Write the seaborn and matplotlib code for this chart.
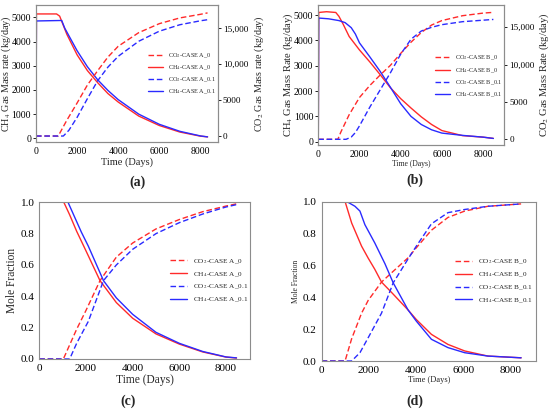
import matplotlib
matplotlib.use('Agg')
import matplotlib.pyplot as plt
import seaborn as sns
from matplotlib.ticker import FuncFormatter

sns.set_style('white')
plt.rcParams['font.family'] = ['Liberation Serif', 'DejaVu Serif']
plt.rcParams['mathtext.fontset'] = 'stix'

RED = '#ff2a2a'
BLUE = '#2a2aff'

# ---- (a) mass rates, CASE A ----
a_ch4_0_t = [0, 20, 1000, 1150, 1500, 2000, 2500, 3000, 3500, 4000, 5000, 6000, 7000, 8000, 8350]
a_ch4_0_v = [0, 5140, 5140, 5050, 4300, 3450, 2800, 2300, 1850, 1500, 920, 530, 260, 90, 60]
a_ch4_01_t = [0, 20, 1250, 1400, 2000, 2500, 3000, 3500, 4000, 5000, 6000, 7000, 8000, 8350]
a_ch4_01_v = [0, 4850, 4870, 4550, 3620, 2960, 2420, 1980, 1600, 1000, 580, 290, 100, 60]
a_co2_0_t = [0, 1080, 1500, 2000, 2500, 3000, 3500, 4000, 5000, 6000, 7000, 8000, 8350]
a_co2_0_v = [0, 0, 2200, 4600, 7100, 9100, 11000, 12500, 14400, 15650, 16450, 16950, 17150]
a_co2_01_t = [0, 1330, 1600, 2000, 2500, 3000, 3500, 4000, 5000, 6000, 7000, 8000, 8350]
a_co2_01_v = [0, 0, 800, 2600, 5200, 7700, 9600, 11100, 13200, 14600, 15500, 16050, 16200]

# ---- (b) mass rates, CASE B ----
b_ch4_0_t = [0, 20, 400, 850, 1000, 1200, 1500, 2000, 2500, 3000, 3500, 4000, 4500, 5000, 5500, 6000, 7000, 8000, 8500]
b_ch4_0_v = [0, 5100, 5130, 5100, 4950, 4650, 4150, 3620, 3150, 2650, 2130, 1700, 1330, 980, 680, 440, 240, 180, 130]
b_ch4_01_t = [0, 20, 500, 1000, 1300, 1600, 1800, 2000, 2500, 3000, 3500, 4000, 4500, 5000, 5500, 6000, 7000, 8000, 8500]
b_ch4_01_v = [0, 4880, 4850, 4780, 4700, 4500, 4250, 3900, 3350, 2780, 2150, 1500, 1000, 680, 470, 340, 250, 180, 130]
b_co2_0_t = [0, 950, 1100, 1500, 2000, 2500, 3000, 3500, 4000, 4500, 5000, 5500, 6000, 7000, 8000, 8500]
b_co2_0_v = [0, 0, 1000, 3300, 5600, 7200, 8600, 9900, 11500, 13000, 14300, 15300, 15900, 16550, 16900, 17000]
b_co2_01_t = [0, 1350, 1600, 1800, 2000, 2500, 3000, 3500, 4000, 4500, 5000, 5500, 6000, 7000, 8000, 8500]
b_co2_01_v = [0, 0, 300, 900, 1800, 4300, 6600, 8900, 11400, 13400, 14500, 15000, 15350, 15750, 15950, 16050]

# ---- (c) mole fraction, CASE A ----
c_ch4_0_t = [0, 1050, 1300, 1600, 2000, 2600, 3300, 4000, 5000, 6000, 7000, 8000, 8450]
c_ch4_0_v = [1, 1, 0.92, 0.815, 0.69, 0.5, 0.36, 0.26, 0.16, 0.095, 0.045, 0.012, 0.006]
c_ch4_01_t = [0, 1230, 1500, 1800, 2100, 2750, 3300, 4000, 5000, 6000, 7000, 8000, 8450]
c_ch4_01_v = [1, 1, 0.91, 0.81, 0.72, 0.5, 0.39, 0.285, 0.17, 0.1, 0.048, 0.013, 0.007]
c_co2_0_t = [0, 1030, 1300, 1600, 2000, 2600, 3300, 4000, 5000, 6000, 7000, 8000, 8450]
c_co2_0_v = [0, 0, 0.09, 0.19, 0.31, 0.5, 0.65, 0.74, 0.83, 0.89, 0.94, 0.976, 0.99]
c_co2_01_t = [0, 1300, 1600, 2100, 2750, 3300, 4000, 5000, 6000, 7000, 8000, 8450]
c_co2_01_v = [0, 0, 0.1, 0.24, 0.5, 0.6, 0.7, 0.8, 0.87, 0.925, 0.97, 0.985]

# ---- (d) mole fraction, CASE B ----
d_ch4_0_t = [0, 990, 1270, 1690, 1970, 2250, 2535, 2960, 3660, 4010, 4650, 5350, 6060, 7040, 8450]
d_ch4_0_v = [1, 1, 0.865, 0.72, 0.645, 0.575, 0.495, 0.43, 0.32, 0.26, 0.167, 0.104, 0.063, 0.031, 0.02]
d_ch4_01_t = [0, 1060, 1410, 1620, 1830, 2250, 2680, 3030, 3660, 4010, 4650, 5350, 6060, 7040, 8450]
d_ch4_01_v = [1, 1, 0.97, 0.94, 0.855, 0.74, 0.61, 0.49, 0.32, 0.25, 0.136, 0.084, 0.052, 0.031, 0.02]
d_co2_0_t = [0, 990, 1270, 1690, 1970, 2535, 2960, 3660, 4010, 4650, 5350, 6060, 7040, 8450]
d_co2_0_v = [0, 0, 0.14, 0.30, 0.38, 0.495, 0.553, 0.647, 0.71, 0.82, 0.9, 0.94, 0.97, 0.985]
d_co2_01_t = [0, 1270, 1620, 1970, 2535, 3030, 3660, 4010, 4650, 5350, 6060, 7040, 8450]
d_co2_01_v = [0, 0, 0.052, 0.146, 0.30, 0.49, 0.64, 0.72, 0.86, 0.93, 0.95, 0.97, 0.985]

x_ticks = [0, 2000, 4000, 6000, 8000]
dash = (4, 2)
lw = 1.0


def style_axes(ax, tick_size):
    for s in ax.spines.values():
        s.set_color('#8c8c8c')
        s.set_linewidth(0.8)
    ax.tick_params(labelsize=tick_size, length=2, width=0.6, pad=1.5, colors='black')


def line(ax, t, v, color, dashed, label):
    sns.lineplot(x=t, y=v, ax=ax, color=color, linewidth=lw, label=label, legend=False)
    ln = ax.get_lines()[-1]
    if dashed:
        ln.set_dashes(dash)
    return ln


def add_legend(ax, handles, x, y, fs):
    ax.legend(handles=handles, labels=[h.get_label() for h in handles], loc='center left',
              bbox_to_anchor=(x, y), frameon=False, fontsize=fs, borderpad=0, borderaxespad=0,
              handlelength=2.4, handletextpad=0.8, labelspacing=0.55)


fig = plt.figure(figsize=(5.5, 4.13), dpi=100)

fmt_comma = FuncFormatter(lambda v, p: f'{int(v):,}' if v >= 10000 else f'{int(v)}')

# (a)
ax = fig.add_axes([0.0655, 0.6554, 0.3309, 0.3324])
ax2 = ax.twinx()
h1 = line(ax2, a_co2_0_t, a_co2_0_v, RED, True, 'CO$_2$-CASE A_0')
h2 = line(ax, a_ch4_0_t, a_ch4_0_v, RED, False, 'CH$_4$-CASE A_0')
h3 = line(ax2, a_co2_01_t, a_co2_01_v, BLUE, True, 'CO$_2$-CASE A_0.1')
h4 = line(ax, a_ch4_01_t, a_ch4_01_v, BLUE, False, 'CH$_4$-CASE A_0.1')
ax.set_xlim(0, 8860)
ax.set_ylim(-165, 5508)
ax2.set_ylim(-877, 18245)
ax.set_xticks(x_ticks)
ax.set_yticks([0, 1000, 2000, 3000, 4000, 5000])
ax2.set_yticks([0, 5000, 10000, 15000])
ax2.yaxis.set_major_formatter(fmt_comma)
ax.set_xlabel('Time (Days)', fontsize=7.5, labelpad=1)
ax.set_ylabel('CH$_4$ Gas Mass rate (kg/day)', fontsize=7.3)
ax2.set_ylabel('CO$_2$ Gas Mass rate (kg/day)', fontsize=7.3)
ax.yaxis.set_label_coords(-0.125, 0.5)
ax2.yaxis.set_label_coords(1.19, 0.5)
style_axes(ax, 7)
style_axes(ax2, 6.6)
add_legend(ax2, [h1, h2, h3, h4], 0.615, 0.5, 4.5)

# (b)
ax = fig.add_axes([0.5787, 0.6489, 0.3382, 0.3390])
ax2 = ax.twinx()
h1 = line(ax2, b_co2_0_t, b_co2_0_v, RED, True, 'CO$_2$-CASE B_0')
h2 = line(ax, b_ch4_0_t, b_ch4_0_v, RED, False, 'CH$_4$-CASE B_0')
h3 = line(ax2, b_co2_01_t, b_co2_01_v, BLUE, True, 'CO$_2$-CASE B_0.1')
h4 = line(ax, b_ch4_01_t, b_ch4_01_v, BLUE, False, 'CH$_4$-CASE B_0.1')
ax.set_xlim(0, 9030)
ax.set_ylim(-130, 5395)
ax2.set_ylim(-763, 17985)
ax.set_xticks(x_ticks)
ax.set_yticks([0, 1000, 2000, 3000, 4000, 5000])
ax2.set_yticks([0, 5000, 10000, 15000])
ax2.yaxis.set_major_formatter(fmt_comma)
ax.set_xlabel('Time (Days)', fontsize=5.5, labelpad=1)
ax.set_ylabel('CH$_4$ Gas Mass Rate (kg/day)', fontsize=7.6)
ax2.set_ylabel('CO$_2$ Gas Mass Rate (kg/day)', fontsize=7.6)
ax.yaxis.set_label_coords(-0.125, 0.5)
ax2.yaxis.set_label_coords(1.18, 0.5)
style_axes(ax, 7)
style_axes(ax2, 6.6)
add_legend(ax2, [h1, h2, h3, h4], 0.627, 0.49, 4.5)

# (c)
ax = fig.add_axes([0.0715, 0.1308, 0.3831, 0.3794])
h1 = line(ax, c_co2_0_t, c_co2_0_v, RED, True, 'CO$_2$-CASE A_0')
h2 = line(ax, c_ch4_0_t, c_ch4_0_v, RED, False, 'CH$_4$-CASE A_0')
h3 = line(ax, c_co2_01_t, c_co2_01_v, BLUE, True, 'CO$_2$-CASE A_0.1')
h4 = line(ax, c_ch4_01_t, c_ch4_01_v, BLUE, False, 'CH$_4$-CASE A_0.1')
ax.set_xlim(0, 9030)
ax.set_ylim(0, 1.0)
ax.set_xticks(x_ticks)
ax.set_yticks([0, 0.2, 0.4, 0.6, 0.8, 1.0])
ax.yaxis.set_major_formatter(FuncFormatter(lambda v, p: f'{v:.1f}'))
ax.set_xlabel('Time (Days)', fontsize=8.3, labelpad=1)
ax.set_ylabel('Mole Fraction', fontsize=8.3, labelpad=2)
style_axes(ax, 8)
add_legend(ax, [h1, h2, h3, h4], 0.62, 0.5, 5.2)

# (d)
ax = fig.add_axes([0.5849, 0.1259, 0.3896, 0.3862])
h1 = line(ax, d_co2_0_t, d_co2_0_v, RED, True, 'CO$_2$-CASE B_0')
h2 = line(ax, d_ch4_0_t, d_ch4_0_v, RED, False, 'CH$_4$-CASE B_0')
h3 = line(ax, d_co2_01_t, d_co2_01_v, BLUE, True, 'CO$_2$-CASE B_0.1')
h4 = line(ax, d_ch4_01_t, d_ch4_01_v, BLUE, False, 'CH$_4$-CASE B_0.1')
ax.set_xlim(0, 9080)
ax.set_ylim(0, 1.0)
ax.set_xticks(x_ticks)
ax.set_yticks([0, 0.2, 0.4, 0.6, 0.8, 1.0])
ax.yaxis.set_major_formatter(FuncFormatter(lambda v, p: f'{v:.1f}'))
ax.set_xlabel('Time (Days)', fontsize=6, labelpad=1)
ax.set_ylabel('Mole Fraction', fontsize=5.5, labelpad=2)
style_axes(ax, 8)
add_legend(ax, [h1, h2, h3, h4], 0.622, 0.5, 5.2)

# panel letters
for x, y, s in [(137, 182, '(a)'), (415, 180, '(b)'), (128, 401, '(c)'), (415, 401, '(d)')]:
    fig.text(x / 550, 1 - y / 413, s, ha='center', va='center', fontsize=10, fontweight='bold')

fig.savefig('out.png', dpi=100, facecolor='white')
